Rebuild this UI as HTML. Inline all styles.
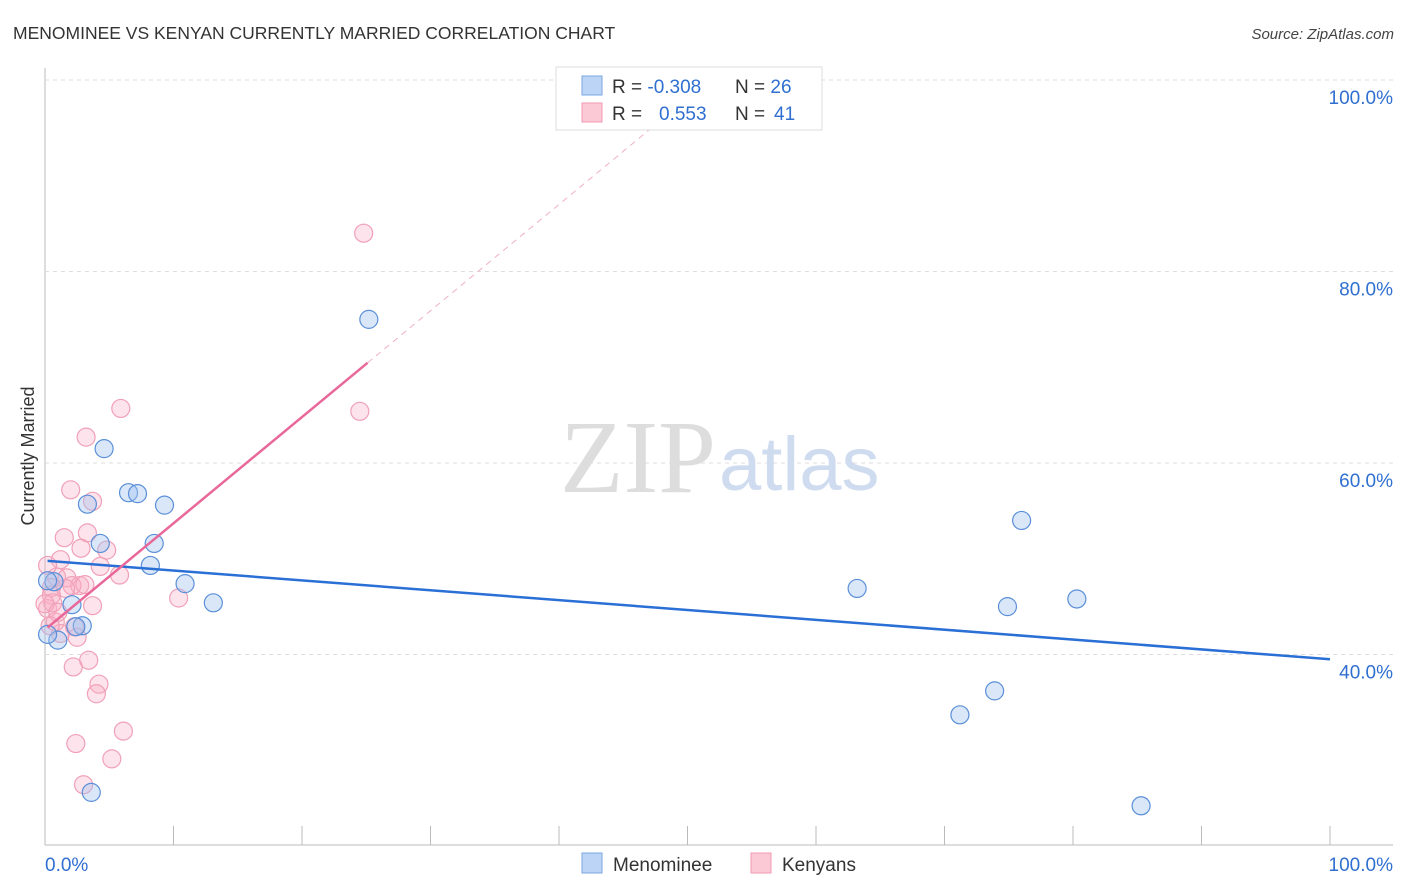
<!DOCTYPE html>
<html><head><meta charset="utf-8"><style>
body{margin:0;background:#fff;font-family:"Liberation Sans",sans-serif}
</style></head><body>
<svg width="1406" height="892" style="display:block">
<text x="13" y="39" font-size="17.5" fill="#333">MENOMINEE VS KENYAN CURRENTLY MARRIED CORRELATION CHART</text>
<text x="1394" y="39" font-size="15" fill="#444" font-style="italic" text-anchor="end">Source: ZipAtlas.com</text>
<text x="34" y="456" font-size="18" fill="#333" transform="rotate(-90 34 456)" text-anchor="middle">Currently Married</text>
<g id="grid"></g>
<text x="716" y="492" font-size="104" fill="#ddd" font-family="Liberation Serif" text-anchor="end">ZIP</text>
<text x="719" y="490" font-size="76" fill="#cfdcf0">atlas</text>
<g id="marks"></g>
<g>
<rect x="556" y="67" width="266" height="63" fill="#fff" stroke="#ddd"/>
<rect x="582" y="76" width="20" height="19" fill="#bcd4f5" stroke="#7aa6e0"/>
<rect x="582" y="103" width="20" height="19" fill="#fbc8d6" stroke="#f09ab2"/>
<text x="612" y="93" font-size="19" fill="#333">R = <tspan fill="#2f6fd0">-0.308</tspan><tspan x="735">N = </tspan><tspan fill="#2f6fd0">26</tspan></text>
<text x="612" y="120" font-size="19" fill="#333">R = <tspan x="659" fill="#2f6fd0">0.553</tspan><tspan x="735">N = </tspan><tspan x="774" fill="#2f6fd0">41</tspan></text>
</g>
<rect x="582" y="853" width="20" height="20" fill="#bcd4f5" stroke="#7aa6e0"/>
<text x="613" y="871" font-size="19" fill="#333">Menominee</text>
<rect x="751" y="853" width="20" height="20" fill="#fbc8d6" stroke="#f09ab2"/>
<text x="782" y="871" font-size="19" fill="#333">Kenyans</text>
</svg>
<script>
const yTicks=[40,60,80,100];
const xTickLabels=["0.0%","100.0%"];
const blueX=[4.6,3.3,6.5,7.2,9.3,4.3,8.5,8.2,10.9,13.1,0.7,2.1,2.9,2.4,1.0,0.2,3.6,25.2,63.2,76.0,74.9,80.3,73.9,71.2,85.3,0.2];
const blueY=[61.5,55.7,56.9,56.8,55.6,51.6,51.6,49.3,47.4,45.4,47.6,45.2,43.0,42.9,41.5,42.1,25.6,75.0,46.9,54.0,45.0,45.8,36.2,33.7,24.2,47.7];
const pinkX=[5.9,3.2,2.0,3.7,3.3,1.5,2.8,4.8,1.2,0.9,1.7,2.7,2.1,3.1,4.3,5.8,0.5,0.5,0.2,3.7,0.6,0.8,1.2,2.5,2.3,3.4,2.2,4.2,4.0,6.1,2.4,5.2,3.0,24.8,24.5,10.4,0.4,0.2,1.6,0,1.0];
const pinkY=[65.7,62.7,57.2,56.0,52.7,52.2,51.1,50.9,49.9,48.1,48.0,47.2,47.2,47.3,49.2,48.3,47.0,46.2,44.8,45.1,45.4,43.4,42.2,41.8,42.9,39.4,38.7,36.9,35.9,32.0,30.7,29.1,26.4,84.0,65.4,45.9,43.0,49.3,46.9,45.3,44.4];
const blueTrend=[49.8,39.5];
const pinkTrend=[42.6,1.11];
const pinkSolidEnd=25.1;
const X=v=>45+v*12.85, Y=v=>80+(100-v)*9.575;
const NS="http://www.w3.org/2000/svg";
function mk(tag,at,parent){const e=document.createElementNS(NS,tag);for(const k in at)e.setAttribute(k,at[k]);parent.appendChild(e);return e;}
const grid=document.getElementById('grid'), marks=document.getElementById('marks');
let ax=mk('line',{x1:45,y1:68,x2:45,y2:845,stroke:'#bbb'},grid);


let bx=mk('line',{x1:45,y1:845,x2:1393,y2:845,stroke:'#bbb'},grid);


yTicks.forEach(t=>{
 let g=mk('line',{x1:45,x2:1393,y1:Y(t),y2:Y(t),stroke:'#ddd','stroke-dasharray':'4,4'},grid);
 
 
 let l=mk('text',{x:1393,y:Y(t)+24,'font-size':19,fill:'#2f6fd0','text-anchor':'end'},grid);l.textContent=t.toFixed(1)+'%';
 
 
});
for(let i=0;i<=10;i++){let t=mk('line',{x1:X(i*10),x2:X(i*10),y1:826,y2:845,stroke:'#bbb'},grid);
 
 }
let xl=mk('text',{x:45,y:871,'font-size':19,fill:'#2f6fd0'},grid);xl.textContent=xTickLabels[0];


let xr=mk('text',{x:1393,y:871,'font-size':19,fill:'#2f6fd0','text-anchor':'end'},grid);xr.textContent=xTickLabels[1];


pinkX.forEach((x,i)=>{let c=mk('circle',{cx:X(x),cy:Y(pinkY[i]),r:9,fill:'rgba(248,175,198,0.35)',stroke:'#f0a0b8','stroke-width':1.2},marks);
 
 });
blueX.forEach((x,i)=>{let c=mk('circle',{cx:X(x),cy:Y(blueY[i]),r:9,fill:'rgba(160,195,240,0.4)',stroke:'#5b8fd8','stroke-width':1.2},marks);
 
 });
let bl=mk('line',{x1:X(0.2),y1:Y(blueTrend[0]+(blueTrend[1]-blueTrend[0])*0.002),x2:X(100),y2:Y(blueTrend[1]),stroke:'#2a6fd6','stroke-width':2.5},marks);


const pe=(100-pinkTrend[0])/pinkTrend[1];
let pd=mk('line',{x1:X(pinkSolidEnd),y1:Y(pinkTrend[0]+pinkTrend[1]*pinkSolidEnd),x2:X(pe),y2:Y(100),stroke:'#f0b0c4','stroke-width':1,'stroke-dasharray':'6,5'},marks);


let pl=mk('line',{x1:X(0.2),y1:Y(pinkTrend[0]+pinkTrend[1]*0.2),x2:X(pinkSolidEnd),y2:Y(pinkTrend[0]+pinkTrend[1]*pinkSolidEnd),stroke:'#e8689a','stroke-width':2.5},marks);


</script>
</body></html>
